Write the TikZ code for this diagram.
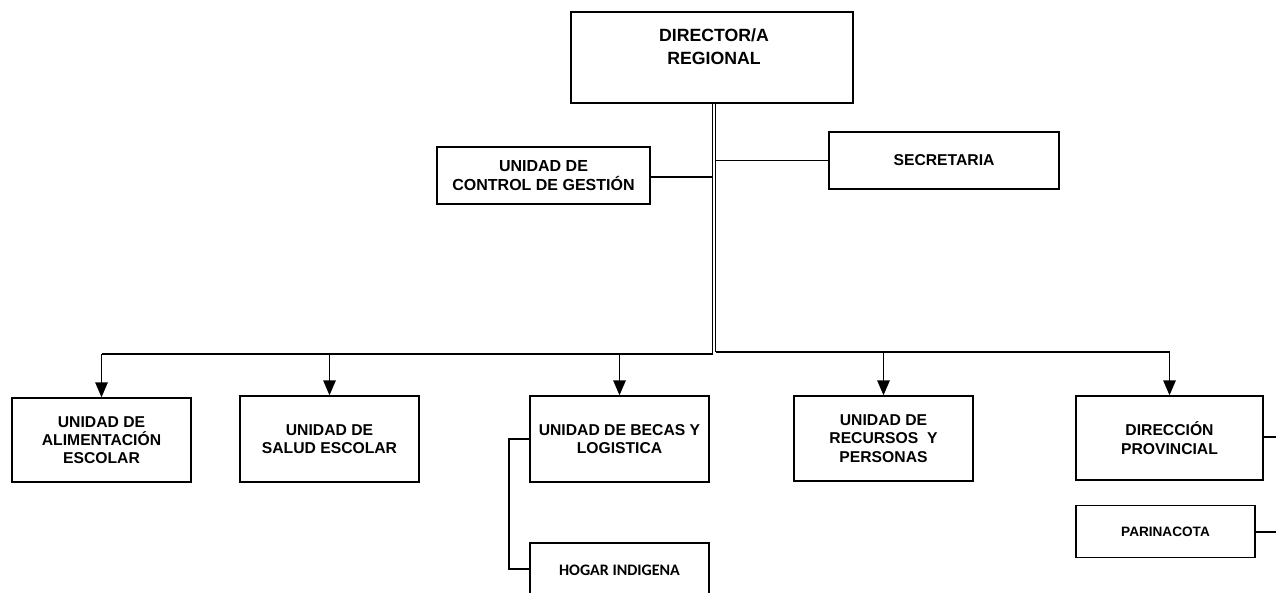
\documentclass[tikz,border=0pt]{standalone}
\usepackage{fontspec}
\setmainfont{Liberation Sans}
\newfontfamily\carl{Carlito}
\usetikzlibrary{arrows.meta}
\begin{document}
\begin{tikzpicture}[x=1pt,y=-1pt,
  box/.style={draw, line width=1.4pt, rectangle, inner sep=0pt, align=center, font=\bfseries\fontsize{15.7}{18.3}\selectfont},
  txt/.style={inner sep=0pt, align=center},
  conn/.style={line width=1.4pt},
  arr/.style={line width=1.4pt, -{Triangle[length=15pt,width=12.5pt]}}]
\useasboundingbox (0,0) rectangle (1276,592);
\fill[white] (0,0) rectangle (1276,592);
% top
\node[box, minimum width=282, minimum height=91] (dir) at (712,57.5) {};
\node[txt, font=\bfseries\fontsize{17.7}{23}\selectfont] (dirt) at (714,47) {DIRECTOR/A\\ REGIONAL};
\node[box, minimum width=213, minimum height=57, font=\bfseries\fontsize{16}{19}\selectfont] (ctrl) at (543.5,175.5) {UNIDAD DE\\CONTROL DE GESTIÓN};
\node[box, minimum width=230, minimum height=57] (sec) at (944,160.5) {SECRETARIA};
% bottom row
\node[box, minimum width=179, minimum height=84] (ali) at (101.5,440) {UNIDAD DE\\ALIMENTACIÓN\\ESCOLAR};
\node[box, minimum width=179, minimum height=86] (sal) at (329.5,439) {UNIDAD DE\\SALUD ESCOLAR};
\node[box, minimum width=179, minimum height=86] (bec) at (619.5,439) {UNIDAD DE BECAS Y\\LOGISTICA};
\node[box, minimum width=179, minimum height=85] (rec) at (883.5,438.5) {UNIDAD DE\\RECURSOS\ \ Y\\PERSONAS};
\node[box, minimum width=187, minimum height=84] (dp) at (1169.5,438) {DIRECCIÓN\\PROVINCIAL};
\node[box, minimum width=179, minimum height=52, font=\bfseries\fontsize{13.6}{15}\selectfont] (par) at (1165.5,531.5) {PARINACOTA};
\node[box, minimum width=179, minimum height=60] (hog) at (619.5,573) {};
\node[txt, font=\carl\bfseries\fontsize{16}{18}\selectfont] (hogt) at (619.5,570) {HOGAR INDIGENA};
% coordinates
\coordinate (vl) at (712.5,354);
\coordinate (vr) at (715.5,352);
\coordinate (rdp) at (1276,437);
\coordinate (rpar) at (1276,532);
\coordinate (bk) at (509,439);
% double spine
\draw[conn] (dir.south -| vl) -- (vl);
\draw[line width=1.1pt] (dir.south -| vr) -- (vr);
\draw[conn] (ctrl.east |- 0,177) -- (vl |- 0,177);
\draw[conn] (vr |- sec.west) -- (sec.west);
% buses
\draw[conn] (vl) -- (vl -| ali.north);
\draw[conn] (vr) -- (vr -| dp.north);
\draw[arr] (vl -| ali.north) -- (ali.north);
\draw[arr] (vl -| sal.north) -- (sal.north);
\draw[arr] (vl -| bec.north) -- (bec.north);
\draw[arr] (vr -| rec.north) -- (rec.north);
\draw[arr] (vr -| dp.north) -- (dp.north);
% side links
\draw[conn] (dp.east |- rdp) -- (rdp);
\draw[conn] (par.east |- rpar) -- (rpar);
\draw[conn] (bec.west |- bk) -- (bk) -- (bk |- 0,569) -- (hog.west |- 0,569);
\end{tikzpicture}
\end{document}
